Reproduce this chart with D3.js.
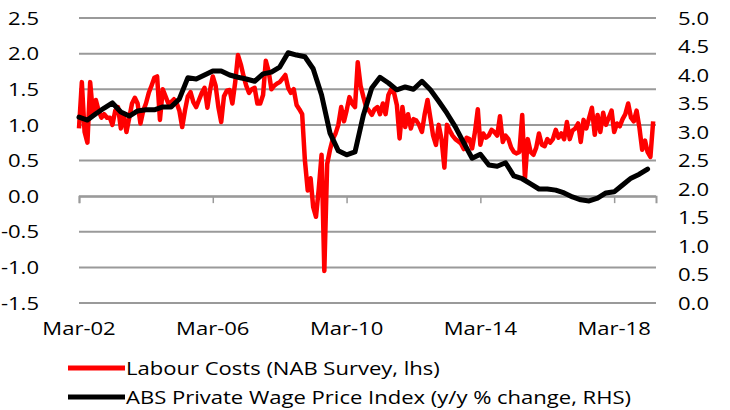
<!DOCTYPE html>
<html>
<head>
<meta charset="utf-8">
<script src="https://cdnjs.cloudflare.com/ajax/libs/d3/7.8.5/d3.min.js"></script>
<style>
  body { margin: 0; background: #fff; }
  text { font-family: "Open Sans", sans-serif; fill: #000; }
</style>
</head>
<body>
<svg id="chart"></svg>
<script>
// monthly NAB labour costs (lhs), starting Mar-02
var labourCosts = [
  0.95, 1.6, 0.9, 0.75, 1.6, 1.15, 1.35, 1.2, 1.1, 1.15, 1.1, 1.1,
  1.0, 1.2, 1.25, 0.95, 1.15, 0.9, 1.1, 1.3, 1.38, 1.3, 1.02, 1.2,
  1.3, 1.45, 1.55, 1.66, 1.68, 1.07, 1.5, 1.4, 1.3, 1.32, 1.36, 1.3,
  1.2, 0.97, 1.2, 1.4, 1.46, 1.32, 1.25, 1.35, 1.45, 1.52, 1.24, 1.5,
  1.68, 1.55, 1.25, 1.04, 1.4, 1.48, 1.49, 1.3, 1.6, 1.98, 1.85, 1.68,
  1.55, 1.45, 1.5, 1.52, 1.3, 1.3, 1.42, 1.9, 1.75, 1.5, 1.55, 1.58,
  1.6, 1.65, 1.7, 1.52, 1.45, 1.5, 1.28, 1.22, 1.15, 0.5, 0.08, 0.25,
  -0.15, -0.29, 0.1, 0.58, -1.05, 0.45, 0.65, 0.8, 0.88, 1.0, 1.25, 1.05,
  1.2, 1.39, 1.3, 1.25, 1.88, 1.55, 1.39, 1.25, 1.2, 1.14, 1.22, 1.25,
  1.15, 1.3, 1.15, 1.42, 1.5, 1.45, 1.28, 0.81, 1.25, 0.97, 1.15, 0.95,
  1.08, 1.06, 1.0, 0.9, 1.15, 1.35, 1.1, 0.85, 0.72, 1.0, 0.8, 0.4,
  1.0, 0.92, 0.85, 0.8, 0.77, 0.74, 0.66, 0.82, 0.8, 0.67, 0.9, 1.22,
  0.72, 0.88, 0.82, 0.85, 0.93, 0.9, 0.85, 1.12, 0.76, 0.85, 0.8, 0.68,
  0.62, 0.6, 0.62, 1.14, 0.25, 0.8, 0.62, 0.58, 0.68, 0.88, 0.72, 0.7,
  0.8, 0.75, 0.8, 0.93, 0.82, 0.88, 0.8, 1.04, 0.8, 0.92, 0.95, 1.02,
  0.76, 1.07, 0.95, 1.1, 1.24, 0.86, 1.14, 0.9, 1.17, 1.0, 1.1, 1.2,
  0.9, 1.02, 0.98, 1.08, 1.15, 1.3, 1.1, 1.05, 1.2, 0.97, 0.65, 0.78,
  0.62, 0.55, 1.05
];
// quarterly ABS private WPI y/y (rhs), starting Mar-02
var wpi = [
  3.26, 3.21, 3.32, 3.42, 3.51, 3.35, 3.28, 3.37, 3.39, 3.39, 3.44, 3.44,
  3.58, 3.95, 3.93, 4.0, 4.07, 4.07, 4.0, 3.96, 3.93, 3.89, 4.02, 4.05,
  4.14, 4.39, 4.35, 4.32, 4.11, 3.65, 2.98, 2.67, 2.6, 2.65, 3.3, 3.77,
  3.96, 3.86, 3.74, 3.79, 3.75, 3.89, 3.74, 3.54, 3.33, 3.09, 2.81, 2.54,
  2.61, 2.42, 2.4, 2.46, 2.23, 2.18, 2.09, 2.0, 2.0, 1.98, 1.93, 1.86,
  1.81, 1.79, 1.84, 1.93, 1.95, 2.07, 2.19, 2.26, 2.35
];
var leftTicks = [2.5, 2.0, 1.5, 1.0, 0.5, 0.0, -0.5, -1.0, -1.5];
var rightTicks = [5.0, 4.5, 4.0, 3.5, 3.0, 2.5, 2.0, 1.5, 1.0, 0.5, 0.0];
var xTickYears = [2002, 2006, 2010, 2014, 2018];
var seriesNames = ["Labour Costs (NAB Survey, lhs)", "ABS Private Wage Price Index (y/y % change, RHS)"];

var W = 730, H = 410;
var margin = {top: 18, left: 79, right: 74, bottom: 107};
var start = new Date(2002, 2, 1);
var stretch = 1.16; // text in the original is a bit wide

var svg = d3.select("#chart").attr("width", W).attr("height", H);

var x = d3.scaleTime()
    .domain([start, new Date(2019, 5, 1)])
    .range([margin.left, W - margin.right]);
var yL = d3.scaleLinear().domain([-1.5, 2.5]).range([H - margin.bottom, margin.top]);
var yR = d3.scaleLinear().domain([0, 5]).range([H - margin.bottom, margin.top]);

var f1 = d3.format(".1f");
function fmt(v){ return f1(v).replace("\u2212", "-"); }

function place(px, py){
  return "translate(" + px + "," + py + ") scale(" + stretch + ",1)";
}

// gridlines
svg.append("g").selectAll("line")
  .data(leftTicks)
  .join("line")
    .attr("x1", x.range()[0])
    .attr("x2", x.range()[1])
    .attr("y1", function(d){ return yL(d); })
    .attr("y2", function(d){ return yL(d); })
    .attr("stroke", "#9a9a9a")
    .attr("stroke-width", 2);

// category axis sits at zero
var xAxis = d3.axisBottom(x)
    .tickValues(xTickYears.map(function(y){ return new Date(y, 2, 1); }))
    .tickSize(7)
    .tickFormat("");
var xg = svg.append("g")
    .attr("transform", "translate(0," + yL(0) + ")")
    .call(xAxis);
xg.select(".domain").attr("stroke", "#9a9a9a").attr("stroke-width", 2);
xg.selectAll(".tick line").attr("stroke", "#9a9a9a").attr("stroke-width", 1.5);

// x labels at the bottom
svg.append("g").selectAll("text")
  .data(xTickYears)
  .join("text")
    .attr("transform", function(d){ return place(x(new Date(d, 2, 1)), 328); })
    .attr("dy", "0.35em")
    .attr("text-anchor", "middle")
    .attr("font-size", "19px")
    .text(function(d){ return "Mar-" + String(d).slice(2); });

// left axis labels
svg.append("g").selectAll("text")
  .data(leftTicks)
  .join("text")
    .attr("transform", function(d){ return place(39, yL(d)); })
    .attr("dy", "0.35em")
    .attr("text-anchor", "end")
    .attr("font-size", "19px")
    .text(function(d){ return fmt(d); });

// right axis labels
svg.append("g").selectAll("text")
  .data(rightTicks)
  .join("text")
    .attr("transform", function(d){ return place(678, yR(d)); })
    .attr("dy", "0.35em")
    .attr("text-anchor", "start")
    .attr("font-size", "19px")
    .text(function(d){ return fmt(d); });

var redLine = d3.line()
    .x(function(d, i){ return x(d3.timeMonth.offset(start, i)); })
    .y(function(d){ return yL(d); });
var blackLine = d3.line()
    .x(function(d, i){ return x(d3.timeMonth.offset(start, i * 3)); })
    .y(function(d){ return yR(d); });

svg.append("path")
    .datum(labourCosts)
    .attr("d", redLine)
    .attr("fill", "none")
    .attr("stroke", "#ff0000")
    .attr("stroke-width", 4.5)
    .attr("stroke-linejoin", "round");

svg.append("path")
    .datum(wpi)
    .attr("d", blackLine)
    .attr("fill", "none")
    .attr("stroke", "#000")
    .attr("stroke-width", 5)
    .attr("stroke-linejoin", "round")
    .attr("stroke-linecap", "round");

// legend
var legendColors = ["#ff0000", "#000"];
var lg = svg.append("g").selectAll("g")
  .data(seriesNames)
  .join("g")
    .attr("transform", function(d, i){ return "translate(68," + (368 + i * 29) + ")"; });
lg.append("line")
    .attr("x1", 0).attr("x2", 57)
    .attr("stroke", function(d, i){ return legendColors[i]; })
    .attr("stroke-width", 5);
lg.append("text")
    .attr("transform", place(58, 0))
    .attr("dy", "0.35em")
    .attr("font-size", "19px")
    .text(function(d){ return d; });
</script>
</body>
</html>
